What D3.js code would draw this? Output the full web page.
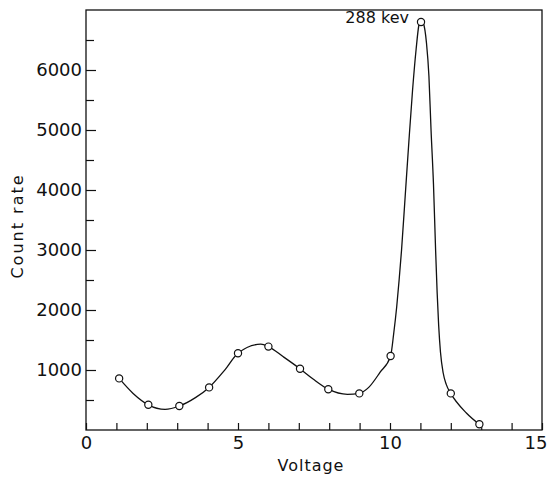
<!DOCTYPE html>
<html>
<head>
<meta charset="utf-8">
<script src="https://cdn.jsdelivr.net/npm/d3@7"></script>
<style>
	body { margin: 0; background: #fff; }
	svg text { font-family: "DejaVu Sans", sans-serif; fill: #111; }
</style>
</head>
<body>
<svg id="chart" width="548" height="478"></svg>
<script>
// measured points (circles)
const voltage = [1.09, 2.05, 3.07, 4.05, 5.0, 6.0, 7.04, 7.97, 8.99, 10.02, 11.02, 12.0, 12.94]
const countRate = [860, 420, 400, 710, 1280, 1390, 1020, 680, 610, 1233, 6800, 610, 95]

// hand drawn curve
const curveVoltage = [1.09, 1.55, 2.05, 2.6, 3.07, 3.6, 4.05, 4.55, 5.0, 5.75, 6.0, 6.49, 7.04, 7.47, 7.97, 8.6, 8.99, 9.3, 9.67, 10.02,
	10.12, 10.22, 10.3, 10.38, 10.5, 10.62, 10.74, 10.86, 10.95, 11.02, 11.1, 11.2, 11.28, 11.35, 11.43, 11.5, 11.55, 11.6,
	11.66, 11.75, 11.85, 12.0, 12.52, 12.94]
const curveCount = [860, 610, 420, 345, 400, 540, 710, 990, 1280, 1430, 1390, 1220, 1020, 850, 680, 595, 610, 710, 960, 1233,
	1600, 2050, 2500, 3000, 3900, 4800, 5650, 6350, 6750, 6840, 6780, 6450, 5900, 5000, 4100, 3000, 2300, 1750,
	1300, 950, 760, 610, 280, 95]

// ticks
const yLabelTicks = [1000, 2000, 3000, 4000, 5000, 6000]
const yMinorTicks = [500, 1500, 2500, 3500, 4500, 5500, 6500]
const xLabelTicks = [0, 5, 10, 15]
const xMinorTicks = [1, 2, 3, 4, 6, 7, 8, 9, 11, 12, 13, 14]

const svg = d3.select("#chart")
const plotLeft = 86, plotRight = 542, plotTop = 10, plotBottom = 430

let xScale = d3.scaleLinear().domain([0, 15]).range([plotLeft, plotRight])
let yScale = d3.scaleLinear().domain([0, 7000]).range([plotBottom, plotTop])

// frame
svg.append("rect")
	.attr("x", plotLeft).attr("y", plotTop)
	.attr("width", plotRight - plotLeft).attr("height", plotBottom - plotTop)
	.attr("fill", "none").attr("stroke", "#111").attr("stroke-width", 1.3)

// y axis, ticks point inward
let yMajor = svg.append("g")
	.attr("transform", "translate(" + plotLeft + ",0)")
	.call(d3.axisLeft(yScale).tickValues(yLabelTicks).tickSize(-10).tickPadding(4).tickFormat(d3.format("d")))
let yMinor = svg.append("g")
	.attr("transform", "translate(" + plotLeft + ",0)")
	.call(d3.axisLeft(yScale).tickValues(yMinorTicks).tickSize(-8).tickFormat(""))

// x axis
let xMajor = svg.append("g")
	.attr("transform", "translate(0," + plotBottom + ")")
	.call(d3.axisBottom(xScale).tickValues(xLabelTicks).tickSize(-7).tickPadding(5).tickFormat(d3.format("d")))
let xMinor = svg.append("g")
	.attr("transform", "translate(0," + plotBottom + ")")
	.call(d3.axisBottom(xScale).tickValues(xMinorTicks).tickSize(-7).tickFormat(""))

svg.selectAll(".domain").remove()
svg.selectAll(".tick line").attr("stroke", "#111").attr("stroke-width", 1.2)
svg.selectAll(".tick text").style("font-size", "18px").attr("fill", "#111")
xMajor.selectAll(".tick text").attr("dy", "0.75em")
// last label sits on the page edge, keep it inside
xMajor.selectAll(".tick text").filter(d => d === 15)
	.attr("text-anchor", "end").attr("x", 5)

// curve
let line = d3.line()
	.x(d => xScale(d[0]))
	.y(d => yScale(d[1]))
	.curve(d3.curveMonotoneX)

svg.append("path")
	.datum(curveVoltage.map((v, i) => [v, curveCount[i]]))
	.attr("d", line)
	.attr("fill", "none")
	.attr("stroke", "#111")
	.attr("stroke-width", 1.3)

// points
svg.selectAll("circle.pt")
	.data(voltage.map((v, i) => [v, countRate[i]]))
	.join("circle")
	.attr("class", "pt")
	.attr("cx", d => xScale(d[0]))
	.attr("cy", d => yScale(d[1]))
	.attr("r", 3.6)
	.attr("fill", "#fff")
	.attr("stroke", "#111")
	.attr("stroke-width", 1.2)

// peak label
svg.append("text")
	.attr("x", xScale(11.02) - 12)
	.attr("y", yScale(6800) + 1)
	.attr("text-anchor", "end")
	.style("font-size", "16px")
	.text("288 kev")

// axis titles
svg.append("text")
	.attr("x", xScale(7.4))
	.attr("y", 471)
	.attr("text-anchor", "middle")
	.style("font-size", "16px")
	.style("letter-spacing", "1px")
	.text("Voltage")

svg.append("text")
	.attr("transform", "translate(23," + 226 + ") rotate(-90)")
	.attr("text-anchor", "middle")
	.style("font-size", "16px")
	.style("letter-spacing", "2px")
	.text("Count rate")
</script>
</body>
</html>
